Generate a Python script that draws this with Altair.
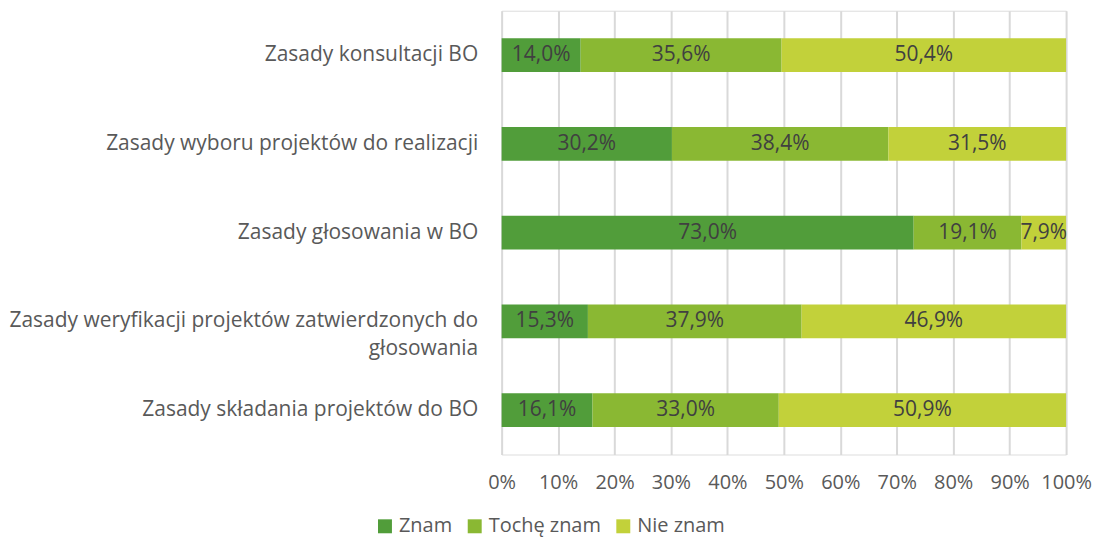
import altair as alt
import pandas as pd

categories = [
    "Zasady konsultacji BO",
    "Zasady wyboru projektów do realizacji",
    "Zasady głosowania w BO",
    "Zasady weryfikacji projektów zatwierdzonych do|głosowania",
    "Zasady składania projektów do BO",
]
series = ["Znam", "Tochę znam", "Nie znam"]
znam = [14.0, 30.2, 73.0, 15.3, 16.1]
troche = [35.6, 38.4, 19.1, 37.9, 33.0]
nie = [50.4, 31.5, 7.9, 46.9, 50.9]
colors = ["#519D3A", "#8AB833", "#C2D13A"]

rows = []
for i, c in enumerate(categories):
    for j, (s, vals) in enumerate(zip(series, [znam, troche, nie])):
        v = vals[i]
        rows.append({"cat": c, "series": s, "order": j, "value": v,
                     "label": f"{v:.1f}%".replace(".", ",")})
df = pd.DataFrame(rows)

FONT = "Open Sans"
FS = 21

base = alt.Chart(df).transform_stack(
    stack="value", groupby=["cat"], as_=["x0", "x1"],
    offset="normalize", sort=[alt.SortField("order", order="ascending")]
).transform_calculate(mid="(datum.x0 + datum.x1) / 2")

yenc = alt.Y("cat:N", sort=categories, title=None,
             scale=alt.Scale(paddingInner=0.62, paddingOuter=0.31),
             axis=alt.Axis(labelExpr="split(datum.label, '|')", labelLimit=0,
                           ticks=False, domain=False, labelFontSize=FS,
                           labelColor="#595959", labelFont=FONT, labelPadding=24,
                           labelLineHeight=28))

bars = base.mark_bar().encode(
    x=alt.X("x0:Q", scale=alt.Scale(domain=[0, 1]), title=None,
            axis=alt.Axis(format=".0%", values=[i / 10 for i in range(11)],
                          grid=True, gridColor="#D9D9D9", gridWidth=2,
                          ticks=False, domain=False, labelFontSize=20,
                          labelColor="#595959", labelFont=FONT, labelPadding=18,
                          labelOverlap=False, labelBound=False, labelFlush=False)),
    x2="x1:Q",
    y=yenc,
    color=alt.Color("series:N", sort=series,
                    scale=alt.Scale(domain=series, range=colors),
                    legend=alt.Legend(orient="none", direction="horizontal",
                                      legendX=-127, legendY=507,
                                      title=None, symbolType="square",
                                      symbolSize=196, symbolStrokeWidth=0,
                                      labelFontSize=20, labelColor="#595959",
                                      labelFont=FONT, columnPadding=12,
                                      labelOffset=4)),
)

texts = base.mark_text(fontSize=FS, color="#404040", font=FONT).encode(
    x=alt.X("mid:Q"),
    y=alt.Y("cat:N", sort=categories),
    text="label:N",
)

chart = (bars + texts).properties(width=566, height=445).configure_view(
    stroke=None
).configure(padding={"left": 0, "top": 2, "right": 0, "bottom": 0})

chart.save("out.html", embed_options={"renderer": "svg", "actions": False})
